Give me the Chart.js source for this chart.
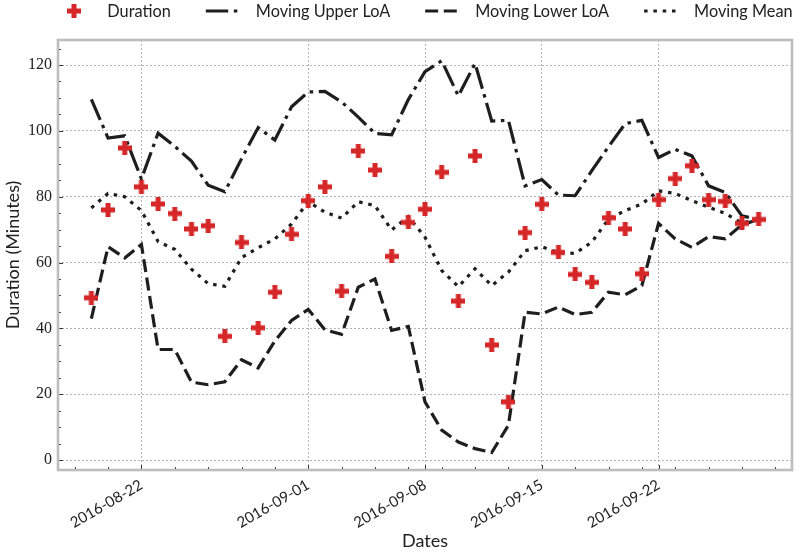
<!DOCTYPE html>
<html><head><meta charset="utf-8">
<script src="https://cdn.jsdelivr.net/npm/chart.js@4.4.1/dist/chart.umd.min.js"></script>
<style>html,body{margin:0;padding:0;background:#fff}#wrap{width:800px;height:555px}</style>
</head><body><div id="wrap"><canvas id="c" width="800" height="555"></canvas></div>
<script>
// ---------- data ----------
const dates = ['2016-08-19','2016-08-20','2016-08-21','2016-08-22','2016-08-23','2016-08-24','2016-08-25','2016-08-26','2016-08-27','2016-08-28',
  '2016-08-29','2016-08-30','2016-08-31','2016-09-01','2016-09-02','2016-09-03','2016-09-04','2016-09-05','2016-09-06','2016-09-07',
  '2016-09-08','2016-09-09','2016-09-10','2016-09-11','2016-09-12','2016-09-13','2016-09-14','2016-09-15','2016-09-16','2016-09-17',
  '2016-09-18','2016-09-19','2016-09-20','2016-09-21','2016-09-22','2016-09-23','2016-09-24','2016-09-25','2016-09-26','2016-09-27','2016-09-28'];
const duration = [49.3,76.0,94.8,83.0,77.8,74.9,70.2,71.2,37.6,66.1,
  40.2,51.0,68.6,78.8,83.0,51.3,93.9,88.1,61.9,72.2,
  76.2,87.4,48.3,92.4,35.0,17.7,69.1,77.7,63.1,56.4,
  54.0,73.6,70.2,56.6,79.1,85.5,89.4,79.1,78.6,71.9,73.1];
const upperLoA = [109.6,97.8,98.5,85.4,99.3,95.3,90.8,83.5,81.5,91.5,
  101.0,97.2,107.3,111.8,112.0,108.8,104.2,99.2,98.8,109.5,
  118.0,121.3,110.6,120.5,103.0,103.2,83.3,85.2,80.5,80.3,
  87.9,95.2,102.2,103.2,91.9,94.4,92.4,83.3,81.3,74.2,73.1];
const lowerLoA = [43.0,64.8,61.4,65.5,33.6,33.6,23.7,22.9,23.8,30.5,
  28.0,36.2,42.4,45.8,39.6,38.2,52.5,55.0,39.4,40.6,
  17.7,9.1,5.5,3.5,2.3,10.6,44.9,44.4,46.5,44.2,
  44.9,51.0,50.2,53.0,71.9,67.2,64.6,67.9,67.2,71.5,73.1];
const movingMean = [76.6,81.0,80.0,75.8,66.4,64.0,58.0,53.6,52.8,61.5,
  64.5,67.2,71.7,78.5,75.3,73.5,78.5,77.3,69.9,74.0,
  67.7,57.6,52.7,58.1,53.0,57.1,63.6,64.8,63.0,62.8,
  66.2,73.2,75.8,77.8,81.8,81.0,78.8,76.8,74.9,72.0,73.1];
const majorTickDates = ['2016-08-22','2016-09-01','2016-09-08','2016-09-15','2016-09-22'];
const minorTickDates = ['2016-08-18','2016-08-20','2016-08-24','2016-08-26','2016-08-28','2016-08-30','2016-09-03','2016-09-05','2016-09-07',
  '2016-09-09','2016-09-11','2016-09-13','2016-09-17','2016-09-19','2016-09-21','2016-09-23','2016-09-25','2016-09-27','2016-09-29'];
const yTicks = [0,20,40,60,80,100,120];
const yMinorTicks = [5,10,15,25,30,35,45,50,55,65,70,75,85,90,95,105,110,115,125];
const xLimits = ['2016-08-17','2016-09-30'];
const yLimits = [-3.0,127.6];
const seriesNames = ['Duration','Moving Upper LoA','Moving Lower LoA','Moving Mean'];

// ---------- helpers ----------
const toDay = s => Date.parse(s + 'T00:00:00Z') / 86400000;
const pts = arr => arr.map((v, i) => ({x: toDay(dates[i]), y: v}));
const SANS = 'Lato, "Open Sans", sans-serif';
const SERIF = '"Liberation Serif", "DejaVu Serif", serif';
const RED = '#d62728';
const INK = '#1e1e1e';
const LW = 3.2;
const DASH_DASHDOT = [22.4, 5.6, 3.5, 5.6];
const DASH_DASHED = [13, 5.6];
const DASH_DOTTED = [3.5, 5.8];

function plusMarker(size, arm) {
  const c = document.createElement('canvas');
  c.width = size; c.height = size;
  const g = c.getContext('2d');
  const a = (size - arm) / 2;
  g.fillStyle = RED;
  g.fillRect(a, 0, arm, size);
  g.fillRect(0, a, size, arm);
  return c;
}
const plus = plusMarker(14, 5);

const lineDs = (label, data, dash) => ({
  label, data: pts(data), showLine: true, borderColor: INK, borderWidth: LW,
  borderDash: dash, borderCapStyle: 'butt', borderJoinStyle: 'miter', tension: 0,
  pointRadius: 0, pointHoverRadius: 0, fill: false
});

// inward ticks + frame
const framePlugin = {
  id: 'frame',
  beforeDatasetsDraw(chart) {
    const {ctx, chartArea: a, scales: {x, y}} = chart;
    ctx.save();
    ctx.strokeStyle = '#333';
    ctx.lineWidth = 1;
    ctx.beginPath();
    majorTickDates.forEach(d => { const px = Math.round(x.getPixelForValue(toDay(d))) + 0.5; ctx.moveTo(px, a.bottom); ctx.lineTo(px, a.bottom - 5); });
    minorTickDates.forEach(d => { const px = Math.round(x.getPixelForValue(toDay(d))) + 0.5; ctx.moveTo(px, a.bottom); ctx.lineTo(px, a.bottom - 3); });
    yTicks.forEach(v => { const py = Math.round(y.getPixelForValue(v)) + 0.5; ctx.moveTo(a.left, py); ctx.lineTo(a.left + 5, py); });
    yMinorTicks.forEach(v => { const py = Math.round(y.getPixelForValue(v)) + 0.5; ctx.moveTo(a.left, py); ctx.lineTo(a.left + 3, py); });
    ctx.stroke();
    ctx.strokeStyle = '#bdbdbd';
    ctx.lineWidth = 2.6;
    ctx.strokeRect(a.left, a.top, a.right - a.left, a.bottom - a.top);
    ctx.restore();
  }
};

// legend above the axes, centred on the plot area
const legendPlugin = {
  id: 'topLegend',
  afterDraw(chart) {
    const {ctx, chartArea: a} = chart;
    const ds = chart.data.datasets;
    ctx.save();
    ctx.font = '16.3px ' + SANS;
    ctx.textBaseline = 'middle';
    ctx.fillStyle = '#222';
    const sw = 34, gap = 16, sep = 35, cy = 11;
    const widths = ds.map(d => ctx.measureText(d.label).width);
    const total = widths.reduce((s, w) => s + sw + gap + w, 0) + sep * (ds.length - 1);
    let x = (a.left + a.right) / 2 - total / 2;
    ds.forEach((d, i) => {
      if (i === 0) {
        ctx.drawImage(plus, Math.round(x + sw / 2 - plus.width / 2), Math.round(cy - plus.height / 2));
      } else {
        ctx.save();
        ctx.strokeStyle = d.borderColor; ctx.lineWidth = d.borderWidth; ctx.lineCap = 'butt';
        ctx.setLineDash(d.borderDash);
        ctx.beginPath(); ctx.moveTo(x, cy); ctx.lineTo(x + sw, cy); ctx.stroke();
        ctx.restore();
      }
      ctx.fillText(d.label, x + sw + gap, cy + 1);
      x += sw + gap + widths[i] + sep;
    });
    ctx.restore();
  }
};

new Chart(document.getElementById('c'), {
  type: 'line',
  data: {
    datasets: [
      {label: seriesNames[0], data: pts(duration), showLine: false, pointStyle: plus, pointRadius: 7, pointHoverRadius: 7, borderColor: RED, backgroundColor: RED},
      lineDs(seriesNames[1], upperLoA, DASH_DASHDOT),
      lineDs(seriesNames[2], lowerLoA, DASH_DASHED),
      lineDs(seriesNames[3], movingMean, DASH_DOTTED)
    ]
  },
  options: {
    responsive: false,
    animation: false,
    layout: {padding: {top: 40, right: 3, left: 0, bottom: 0}},
    plugins: {legend: {display: false}, tooltip: {enabled: false}},
    scales: {
      x: {
        type: 'linear',
        min: toDay(xLimits[0]), max: toDay(xLimits[1]),
        afterBuildTicks: s => { s.ticks = majorTickDates.map(d => ({value: toDay(d)})); },
        afterFit: s => { s.height = 85; },
        grid: {color: '#b5b5b5', lineWidth: 1, drawTicks: false},
        border: {display: false, dash: [2, 2]},
        ticks: {
          autoSkip: false, minRotation: 30, maxRotation: 30, padding: 6,
          color: '#222', font: {family: SANS, size: 15},
          callback: (v, i) => majorTickDates[i]
        },
        title: {display: true, text: 'Dates', color: '#222', font: {family: SANS, size: 18}, padding: {top: 0, bottom: 3}}
      },
      y: {
        min: yLimits[0], max: yLimits[1],
        afterBuildTicks: s => { s.ticks = yTicks.map(v => ({value: v})); },
        afterFit: s => { s.width = 58; },
        grid: {color: '#b5b5b5', lineWidth: 1, drawTicks: false},
        border: {display: false, dash: [2, 2]},
        ticks: {padding: 6, color: '#222', font: {family: SERIF, size: 16}},
        title: {display: true, text: 'Duration (Minutes)', color: '#222', font: {family: SANS, size: 18}, padding: {top: 2, bottom: 0}}
      }
    }
  },
  plugins: [framePlugin, legendPlugin]
});
</script>
</body></html>
